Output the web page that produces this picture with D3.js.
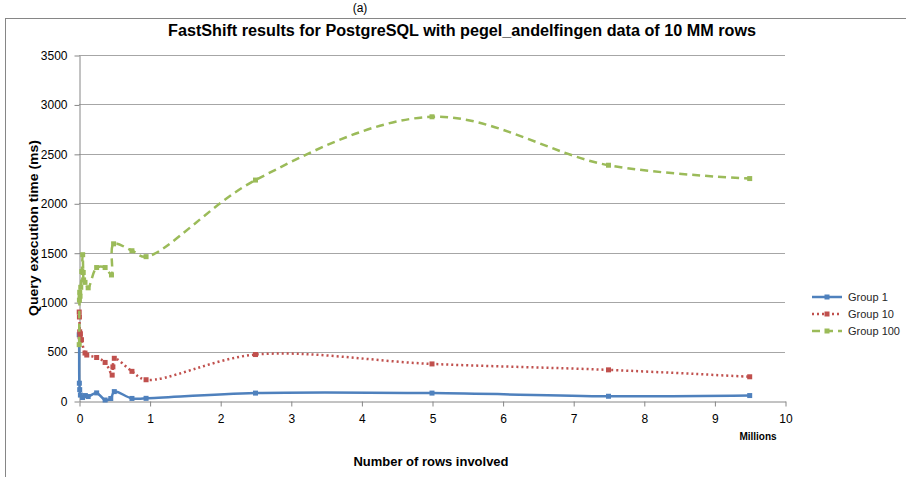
<!DOCTYPE html>
<html>
<head>
<meta charset="utf-8">
<script src="https://cdn.jsdelivr.net/npm/d3@7"></script>
<style>
  body { margin: 0; background: #fff; }
  svg { display: block; font-family: 'Liberation Sans', Arial, sans-serif; }
  .axis text { font-size: 12px; fill: #000; }
  .axis line, .axis path { stroke: #868686; }
  .grid line { stroke: #a6a6a6; }
  .legend text { font-size: 11px; fill: #262626; }
</style>
</head>
<body>
<div id="container"></div>
<script>
// rows involved, in millions
const group1Rows = [0.003, 0.005, 0.01, 0.02, 0.05, 0.09, 0.13, 0.25, 0.37, 0.45, 0.5, 0.75, 0.95, 2.5, 5, 7.5, 9.5];
const group1Ms = [670, 180, 115, 60, 35, 55, 45, 82, 10, 25, 95, 26, 27, 80, 80, 48, 55];

const group10Rows = [0.003, 0.006, 0.01, 0.015, 0.02, 0.035, 0.085, 0.11, 0.25, 0.37, 0.47, 0.48, 0.5, 0.75, 0.95, 2.5, 5, 7.5, 9.5];
const group10Ms = [900, 850, 700, 650, 680, 620, 485, 465, 440, 390, 262, 345, 432, 300, 215, 470, 375, 315, 245];

const group100Rows = [0.003, 0.006, 0.01, 0.015, 0.025, 0.04, 0.052, 0.06, 0.065, 0.085, 0.13, 0.25, 0.37, 0.46, 0.49, 0.75, 0.95, 2.5, 5, 7.5, 9.5];
const group100Ms = [570, 1020, 1100, 1060, 1150, 1310, 1480, 1300, 1225, 1200, 1145, 1350, 1350, 1275, 1590, 1520, 1460, 2235, 2875, 2385, 2250];

const seriesNames = ['Group 1', 'Group 10', 'Group 100'];
const xTicks = [0, 1, 2, 3, 4, 5, 6, 7, 8, 9, 10];
const yTicks = [0, 500, 1000, 1500, 2000, 2500, 3000, 3500];

document.addEventListener('DOMContentLoaded', () => {
  const w = 906;
  const h = 477;

  const svg = d3
    .select('#container')
    .append('svg')
    .attr('width', w)
    .attr('height', h);

  const x = d3.scaleLinear().domain([0, 10]).range([79, 785]);
  const y = d3.scaleLinear().domain([0, 3500]).range([401, 55]);

  // chart frame and caption above it
  svg
    .append('text')
    .attr('x', 360)
    .attr('y', 12)
    .attr('text-anchor', 'middle')
    .attr('font-size', 12)
    .text('(a)');

  svg
    .append('rect')
    .attr('x', 5.5)
    .attr('y', 18.5)
    .attr('width', 1000)
    .attr('height', 1000)
    .attr('fill', 'none')
    .attr('stroke', '#868686');

  svg
    .append('text')
    .attr('x', 462)
    .attr('y', 36)
    .attr('text-anchor', 'middle')
    .attr('font-size', 16)
    .attr('font-weight', 'bold')
    .attr('textLength', 588)
    .attr('lengthAdjust', 'spacingAndGlyphs')
    .text('FastShift results for PostgreSQL with pegel_andelfingen data of 10 MM rows');

  svg
    .append('g')
    .attr('class', 'grid')
    .selectAll('line')
    .data(yTicks.filter(d => d > 0))
    .enter()
    .append('line')
    .attr('x1', x(0))
    .attr('x2', x(10))
    .attr('y1', d => Math.round(y(d)) + 0.5)
    .attr('y2', d => Math.round(y(d)) + 0.5);

  svg
    .append('g')
    .attr('class', 'axis')
    .attr('transform', `translate(${x(0) + 0.5},0.5)`)
    .call(
      d3
        .axisLeft(y)
        .tickValues(yTicks)
        .tickFormat(d3.format('d'))
        .tickSize(5)
        .tickSizeOuter(0)
        .tickPadding(7)
    );

  svg
    .append('g')
    .attr('class', 'axis')
    .attr('transform', `translate(0.5,${y(0) + 0.5})`)
    .call(
      d3
        .axisBottom(x)
        .tickValues(xTicks)
        .tickFormat(d3.format('d'))
        .tickSize(5)
        .tickSizeOuter(0)
        .tickPadding(8)
    );

  svg
    .append('text')
    .attr('transform', 'translate(38,228) rotate(-90)')
    .attr('text-anchor', 'middle')
    .attr('font-size', 13)
    .attr('font-weight', 'bold')
    .attr('textLength', 176)
    .attr('lengthAdjust', 'spacingAndGlyphs')
    .text('Query execution time (ms)');

  svg
    .append('text')
    .attr('x', 431)
    .attr('y', 466)
    .attr('text-anchor', 'middle')
    .attr('font-size', 13)
    .attr('font-weight', 'bold')
    .attr('textLength', 155)
    .attr('lengthAdjust', 'spacingAndGlyphs')
    .text('Number of rows involved');

  svg
    .append('text')
    .attr('x', 758)
    .attr('y', 440)
    .attr('text-anchor', 'middle')
    .attr('font-size', 10)
    .attr('font-weight', 'bold')
    .text('Millions');

  const series = [
    { name: seriesNames[0], rows: group1Rows, ms: group1Ms, color: '#4F81BD', dash: null },
    { name: seriesNames[1], rows: group10Rows, ms: group10Ms, color: '#C0504D', dash: '2,3' },
    { name: seriesNames[2], rows: group100Rows, ms: group100Ms, color: '#9BBB59', dash: '8,5' },
  ];

  const line = d3
    .line()
    .x(d => x(d[0]))
    .y(d => y(d[1]))
    .curve(d3.curveCatmullRom);

  series.forEach(s => {
    const pts = s.rows.map((r, i) => [r, s.ms[i]]);
    const g = svg.append('g');
    g.append('path')
      .datum(pts)
      .attr('d', line)
      .attr('fill', 'none')
      .attr('stroke', s.color)
      .attr('stroke-width', 2.5)
      .attr('stroke-dasharray', s.dash);
    g.selectAll('rect')
      .data(pts)
      .enter()
      .append('rect')
      .attr('x', d => x(d[0]) - 2.5)
      .attr('y', d => y(d[1]) - 2.5)
      .attr('width', 5)
      .attr('height', 5)
      .attr('fill', s.color);
  });

  const legend = svg
    .append('g')
    .attr('class', 'legend')
    .selectAll('g')
    .data(series)
    .enter()
    .append('g')
    .attr('transform', (d, i) => `translate(812,${297 + i * 17})`);

  legend
    .append('line')
    .attr('x1', 0)
    .attr('x2', 30)
    .attr('stroke', d => d.color)
    .attr('stroke-width', 2.5)
    .attr('stroke-dasharray', d => d.dash);

  legend
    .append('rect')
    .attr('x', 12.5)
    .attr('y', -2.5)
    .attr('width', 5)
    .attr('height', 5)
    .attr('fill', d => d.color);

  legend
    .append('text')
    .attr('x', 36)
    .attr('y', 4)
    .text(d => d.name);
});
</script>
</body>
</html>
